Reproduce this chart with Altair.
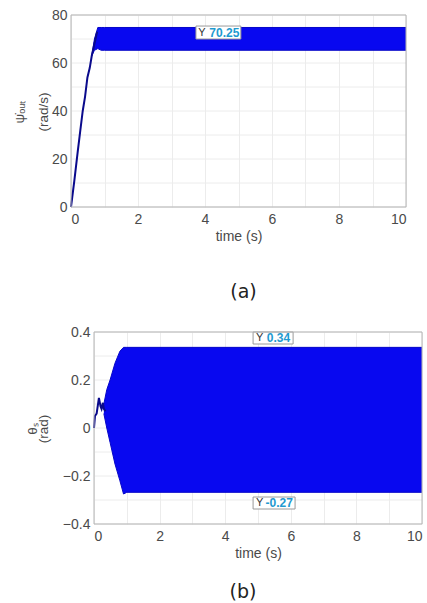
import altair as alt
import pandas as pd

# ---------------- Panel (a): angular velocity ----------------
a_rise_t = [0, 0.1, 0.2, 0.27, 0.35, 0.42, 0.49, 0.56, 0.62, 0.7, 0.78]
a_rise_y = [0, 11, 23, 31, 40, 46, 54, 58, 63, 68, 73]
a_band_t = [0.62, 0.7, 0.8, 0.9, 1.0, 10]
a_band_hi = [63, 70, 74.8, 74.8, 74.8, 74.8]
a_band_lo = [63, 65.3, 66.0, 65.3, 65.3, 65.3]
a_tip_value = "70.25"
a_tip_box = [3.73, 5.07, 75.4, 70.0]   # t1, t2, y1, y2
a_tip_pos = [3.8, 4.13, 72.7]           # "Y" t, value t, y
a_ytitle = ["ψ̇ₒᵤₜ", "(rad/s)"]

# ---------------- Panel (b): angle ----------------
b_tr_t = [0, 0.03, 0.08, 0.15, 0.2, 0.23, 0.27, 0.3, 0.35]
b_tr_y = [0, 0.05, 0.06, 0.125, 0.09, 0.08, 0.105, 0.08, 0.07]
b_band_t = [0.3, 0.39, 0.49, 0.64, 0.79, 0.9, 1.0, 10]
b_band_hi = [0.1, 0.16, 0.2, 0.27, 0.32, 0.336, 0.336, 0.336]
b_band_lo = [0.06, 0.0, -0.06, -0.15, -0.22, -0.275, -0.268, -0.268]
b_tip_hi_value = "0.34"
b_tip_lo_value = "-0.27"
b_tip_hi_box = [4.85, 6.07, 0.4, 0.35]
b_tip_hi_pos = [4.94, 5.27, 0.375]
b_tip_lo_box = [4.85, 6.13, -0.2875, -0.3375]
b_tip_lo_pos = [4.94, 5.23, -0.312]
b_ytitle = ["θₛ", "(rad)"]

x_grid = [0, 1, 2, 3, 4, 5, 6, 7, 8, 9, 10]
a_y_grid = [0, 10, 20, 30, 40, 50, 60, 70, 80]
b_y_grid = [-0.4, -0.3, -0.2, -0.1, 0, 0.1, 0.2, 0.3, 0.4]

BAND = "#0808f0"
LINE = "#0a0a8c"
TIPBLUE = "#1e9ad0"
TXT = "#4a4a4a"
GRID = "#ececec"
FRAME = "#b4b4b4"
FONT = "Liberation Sans"


def panel(rise_t, rise_y, band_t, hi, lo, tips, ydom, ygrid, ylabel_expr,
          ytitle, title_x, x0, plot_w, h, cap, cap_offset, cap_dx, left_edge=None):
    w = x0 + plot_w
    xs = alt.Scale(domain=[0, 10], range=[x0, w], nice=False)
    ys = alt.Scale(domain=ydom, nice=False)
    xax = alt.Axis(values=x_grid, labelExpr="datum.value % 2 == 0 ? datum.label : ''",
                   title="time (s)", ticks=False, domain=False, labelPadding=5,
                   titlePadding=3, titleX=x0 + plot_w / 2)
    yax = alt.Axis(values=ygrid, labelExpr=ylabel_expr, title=None, ticks=False,
                   domain=False, labelPadding=4, grid=False, offset=-x0)
    X = lambda f: alt.X(f"{f}:Q", scale=xs, axis=xax)
    Y = lambda f: alt.Y(f"{f}:Q", scale=ys, axis=yax)

    band_df = pd.DataFrame({"t": band_t, "hi": hi, "lo": lo})
    rise_df = pd.DataFrame({"t": rise_t, "y": rise_y})
    grid_df = pd.DataFrame({"y": ygrid, "t": [0] * len(ygrid), "t2": [10] * len(ygrid)})
    frame_df = pd.DataFrame({"t": [0], "t2": [10], "y": [ydom[1]], "y2": [ydom[0]]})

    hgrid = alt.Chart(grid_df).mark_rule(color=GRID, strokeWidth=1).encode(
        x=X("t"), x2="t2:Q", y=Y("y"))
    band = alt.Chart(band_df).mark_area(color=BAND, opacity=1, line=False).encode(
        x=X("t"), y=Y("hi"), y2="lo:Q")
    edge_hi = alt.Chart(band_df).mark_line(color="#0606c8", strokeWidth=1).encode(
        x=X("t"), y=Y("hi"))
    edge_lo = alt.Chart(band_df).mark_line(color="#0606c8", strokeWidth=1).encode(
        x=X("t"), y=Y("lo"))
    rise = alt.Chart(rise_df).mark_line(color=LINE, strokeWidth=2).encode(
        x=X("t"), y=Y("y"))
    layers = [hgrid, band, edge_hi, edge_lo, rise]
    for box, pos, val in tips:
        bdf = pd.DataFrame({"t": [box[0]], "t2": [box[1]], "y": [box[2]], "y2": [box[3]]})
        layers.append(alt.Chart(bdf).mark_rect(fill="white", stroke="#9a9a9a",
                                               strokeWidth=1).encode(
            x=X("t"), x2="t2:Q", y=Y("y"), y2="y2:Q"))
        tdf = pd.DataFrame({"t": [pos[0]], "y": [pos[2]], "label": ["Y"]})
        vdf = pd.DataFrame({"t": [pos[1]], "y": [pos[2]], "label": [val]})
        layers.append(alt.Chart(tdf).mark_text(align="left", baseline="middle",
                                               font=FONT, fontSize=11, color="#333333").encode(
            x=X("t"), y=Y("y"), text="label:N"))
        layers.append(alt.Chart(vdf).mark_text(align="left", baseline="middle",
                                               font=FONT, fontSize=12, fontWeight="bold",
                                               color=TIPBLUE).encode(
            x=X("t"), y=Y("y"), text="label:N"))
    # plot frame
    layers.append(alt.Chart(frame_df).mark_rect(fillOpacity=0, stroke=FRAME,
                                                strokeWidth=1).encode(
        x=X("t"), x2="t2:Q", y=Y("y"), y2="y2:Q"))
    # y-axis title lines (rotated), placed left of the labels
    for line, xp in zip(ytitle, title_x):
        layers.append(alt.Chart(pd.DataFrame({"label": [line]})).mark_text(
            angle=270, align="center", baseline="middle", font=FONT, fontSize=13.5,
            color=TXT).encode(x=alt.value(xp), y=alt.value(h / 2 + 1), text="label:N"))
    if left_edge is not None:
        # invisible left edge that fixes the panel's left extent
        layers.append(alt.Chart(pd.DataFrame({"label": ["."]})).mark_text(
            opacity=0, align="left", fontSize=2).encode(
            x=alt.value(left_edge), y=alt.value(h / 2), text="label:N"))
    return alt.layer(*layers).properties(
        width=w, height=h,
        title=alt.TitleParams(cap, orient="bottom", anchor="middle", frame="group",
                              fontSize=19, font="DejaVu Sans", fontWeight="normal",
                              color="#222222", offset=cap_offset, dx=cap_dx))


top = panel(a_rise_t, a_rise_y, a_band_t, a_band_hi, a_band_lo,
            [(a_tip_box, a_tip_pos, a_tip_value)],
            [0, 80], a_y_grid, "datum.value % 20 == 0 ? datum.label : ''",
            a_ytitle, [-51, -27], 0, 335, 192, "(a)", 40, 5, left_edge=-71)

bottom = panel(b_tr_t, b_tr_y, b_band_t, b_band_hi, b_band_lo,
               [(b_tip_hi_box, b_tip_hi_pos, b_tip_hi_value),
                (b_tip_lo_box, b_tip_lo_pos, b_tip_lo_value)],
               [-0.4, 0.4], b_y_grid,
               "round(datum.value*10) % 2 == 0 ? (datum.value == 0 ? '0' : format(datum.value, '.1f')) : ''",
               b_ytitle, [-38, -27], 23, 328, 192, "(b)", 23, -3.5)

chart = alt.vconcat(top, bottom, spacing=23).properties(
    background="white",
    padding={"left": 0, "top": 8, "right": 0, "bottom": 0},
).configure_view(strokeWidth=0).configure_axis(
    labelFont=FONT, titleFont=FONT, labelFontSize=14, titleFontSize=14,
    labelColor=TXT, titleColor=TXT, titleFontWeight="normal",
    gridColor=GRID, gridWidth=1,
)

chart.save("out.html", embed_options={"renderer": "svg", "actions": False})
